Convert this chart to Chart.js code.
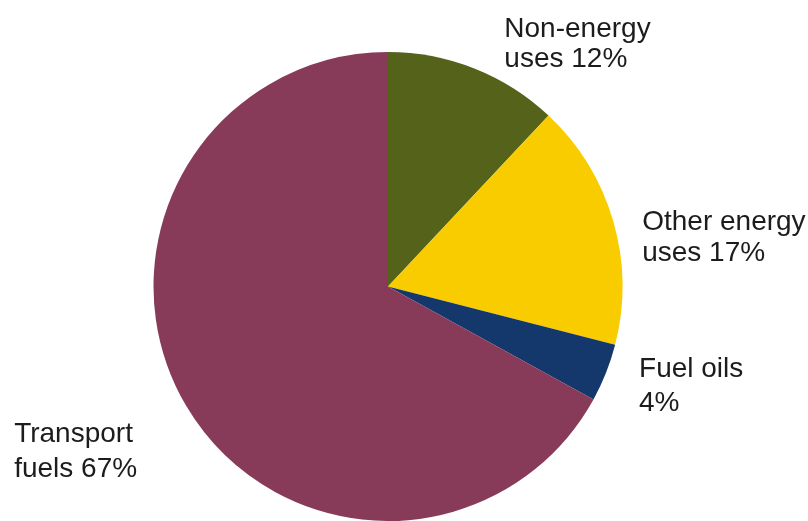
<!DOCTYPE html>
<html>
<head>
<meta charset="utf-8">
<script src="https://cdn.jsdelivr.net/npm/chart.js@4/dist/chart.umd.min.js"></script>
<style>
  html, body { margin: 0; padding: 0; background: #ffffff; }
  #wrap { width: 808px; height: 521px; position: relative; }
</style>
</head>
<body>
<div id="wrap"><canvas id="pie" width="808" height="521"></canvas></div>
<script>
// Share of oil use by category (%)
const categories = ["Non-energy uses", "Other energy uses", "Fuel oils", "Transport fuels"];
const shares = [12, 17, 4, 67];
const sliceColors = ["#55621a", "#f9cc00", "#15386c", "#873b58"];

// Two-line labels shown beside each slice
const labelLines = [
  ["Non-energy", "uses 12%"],
  ["Other energy", "uses 17%"],
  ["Fuel oils", "4%"],
  ["Transport", "fuels 67%"]
];
// Offset of each label's first baseline from the outer midpoint of its slice
const labelOffsets = [
  { dx: 30, dy: -31 },
  { dx: 29, dy: 9 },
  { dx: 33, dy: 4 },
  { dx: -172, dy: 36 }
];
const labelLineHeights = [30, 31, 34, 35];

const sliceLabels = {
  id: 'sliceLabels',
  afterDraw(chart) {
    const ctx = chart.ctx;
    const meta = chart.getDatasetMeta(0);
    ctx.save();
    ctx.font = '28px "Liberation Sans", Arial, sans-serif';
    ctx.fillStyle = '#1c1c1c';
    ctx.textAlign = 'left';
    ctx.textBaseline = 'alphabetic';
    meta.data.forEach((arc, i) => {
      const mid = (arc.startAngle + arc.endAngle) / 2;
      const ox = arc.x + Math.cos(mid) * arc.outerRadius;
      const oy = arc.y + Math.sin(mid) * arc.outerRadius;
      const off = labelOffsets[i];
      labelLines[i].forEach((line, j) => {
        ctx.fillText(line, ox + off.dx, oy + off.dy + j * labelLineHeights[i]);
      });
    });
    ctx.restore();
  }
};

new Chart(document.getElementById('pie'), {
  type: 'pie',
  data: {
    labels: categories,
    datasets: [{
      data: shares,
      backgroundColor: sliceColors,
      borderWidth: 0
    }]
  },
  options: {
    responsive: false,
    animation: false,
    layout: { padding: { top: 52, bottom: 0, left: 0, right: 32 } },
    plugins: {
      legend: { display: false },
      tooltip: { enabled: false }
    }
  },
  plugins: [sliceLabels]
});
</script>
</body>
</html>
